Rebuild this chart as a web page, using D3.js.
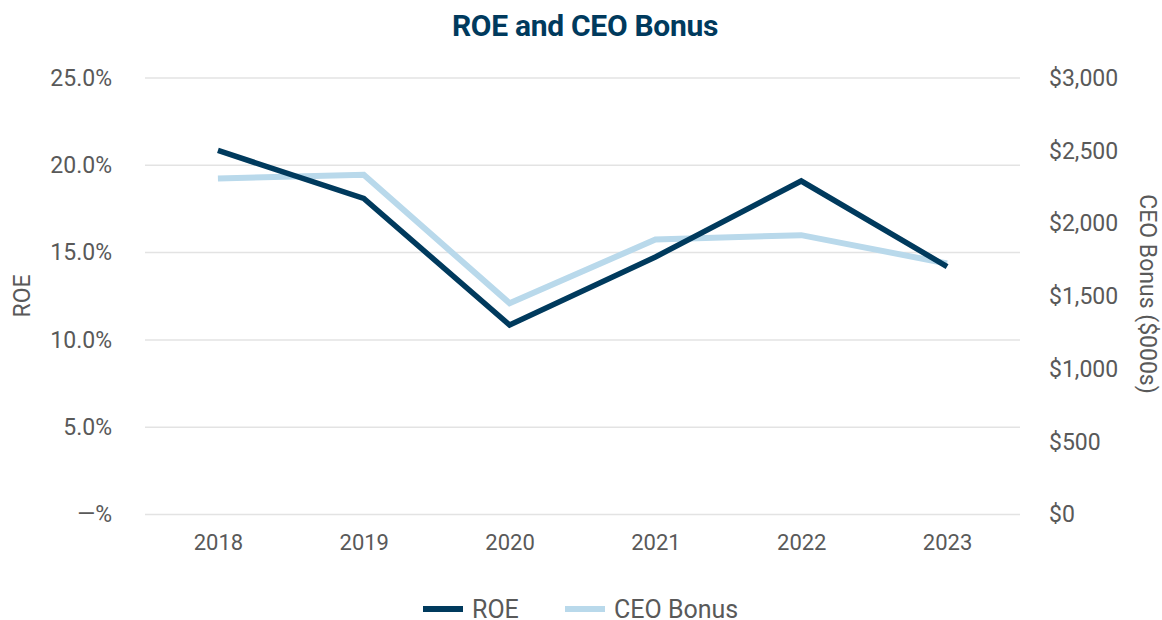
<!DOCTYPE html>
<html><head><meta charset="utf-8">
<script src="https://cdn.jsdelivr.net/npm/d3@7"></script>
<style>body{margin:0;background:#fff;} svg{display:block;font-family:Roboto,"Noto Sans",sans-serif;}</style>
</head><body>
<svg id="c" width="1162" height="620"></svg>
<script>
const years = ["2018","2019","2020","2021","2022","2023"];
const roe = [20.85, 18.1, 10.85, 14.75, 19.1, 14.2];
const bonus = [2310, 2335, 1452, 1890, 1920, 1725];
const roeTicks = [0,5,10,15,20,25];
const bonusTicks = [0,500,1000,1500,2000,2500,3000];

(function(){
const svg = d3.select("#c");
const mLeft = 145, mRight = 1020, mTop = 78, mBottom = 514.5;
const textColor = "#595959";
const navy = "#003a5d", light = "#b9d9eb";

const x = d3.scalePoint().domain(years).range([mLeft, mRight]).padding(0.5);
const yL = d3.scaleLinear().domain([0,25]).range([mBottom, mTop]);
const yR = d3.scaleLinear().domain([0,3000]).range([mBottom, mTop]);

// grid
svg.append("g").selectAll("line").data(roeTicks).join("line")
  .attr("x1", mLeft).attr("x2", mRight)
  .attr("y1", d=>yL(d)).attr("y2", d=>yL(d))
  .attr("stroke", "#e3e3e3").attr("stroke-width", 1.5);

// left axis
const gL = svg.append("g").attr("transform", `translate(${mLeft},0)`)
  .call(d3.axisLeft(yL).tickValues(roeTicks).tickSize(0).tickPadding(33)
    .tickFormat(d => d === 0 ? "—%" : d3.format(".1f")(d) + "%"));
gL.select(".domain").remove();
gL.selectAll("text").attr("fill", textColor).style("font-size","23px").style("font-family","Roboto");

// right axis
const gR = svg.append("g").attr("transform", `translate(${mRight},0)`)
  .call(d3.axisRight(yR).tickValues(bonusTicks).tickSize(0).tickPadding(29)
    .tickFormat(d => "$" + d3.format(",")(d)));
gR.select(".domain").remove();
gR.selectAll("text").attr("fill", textColor).style("font-size","23px").style("font-family","Roboto");

// x axis
const gX = svg.append("g").attr("transform", `translate(0,${mBottom})`)
  .call(d3.axisBottom(x).tickSize(0).tickPadding(20));
gX.select(".domain").remove();
gX.selectAll("text").attr("fill", textColor).style("font-size","22px").style("font-family","Roboto");

// axis titles
svg.append("text").attr("transform", `translate(30,296) rotate(-90)`)
  .attr("text-anchor","middle").attr("fill", textColor).style("font-size","23px").text("ROE");
svg.append("text").attr("transform", `translate(1140,294) rotate(90)`)
  .attr("text-anchor","middle").attr("fill", textColor).style("font-size","23px").text("CEO Bonus ($000s)");

// title
svg.append("text").attr("x", 585).attr("y", 36).attr("text-anchor","middle")
  .attr("fill", navy).style("font-size","30px").style("font-weight","bold")
  .style("letter-spacing","-0.3px").text("ROE and CEO Bonus");

// lines
const lineL = d3.line().x((d,i)=>x(years[i])).y(d=>yL(d));
const lineR = d3.line().x((d,i)=>x(years[i])).y(d=>yR(d));
svg.append("path").datum(bonus).attr("d", lineR).attr("fill","none")
  .attr("stroke", light).attr("stroke-width", 6);
svg.append("path").datum(roe).attr("d", lineL).attr("fill","none")
  .attr("stroke", navy).attr("stroke-width", 5.5);

// legend
const legend = [{name:"ROE", color:navy, x:423},{name:"CEO Bonus", color:light, x:565}];
const lg = svg.append("g");
legend.forEach(l => {
  lg.append("line").attr("x1", l.x).attr("x2", l.x+40).attr("y1", 609).attr("y2", 609)
    .attr("stroke", l.color).attr("stroke-width", 6);
  lg.append("text").attr("x", l.x+49).attr("y", 609).attr("dy", "0.35em").attr("fill", textColor)
    .style("font-size","25px").text(l.name);
});
})();
</script>
</body></html>
